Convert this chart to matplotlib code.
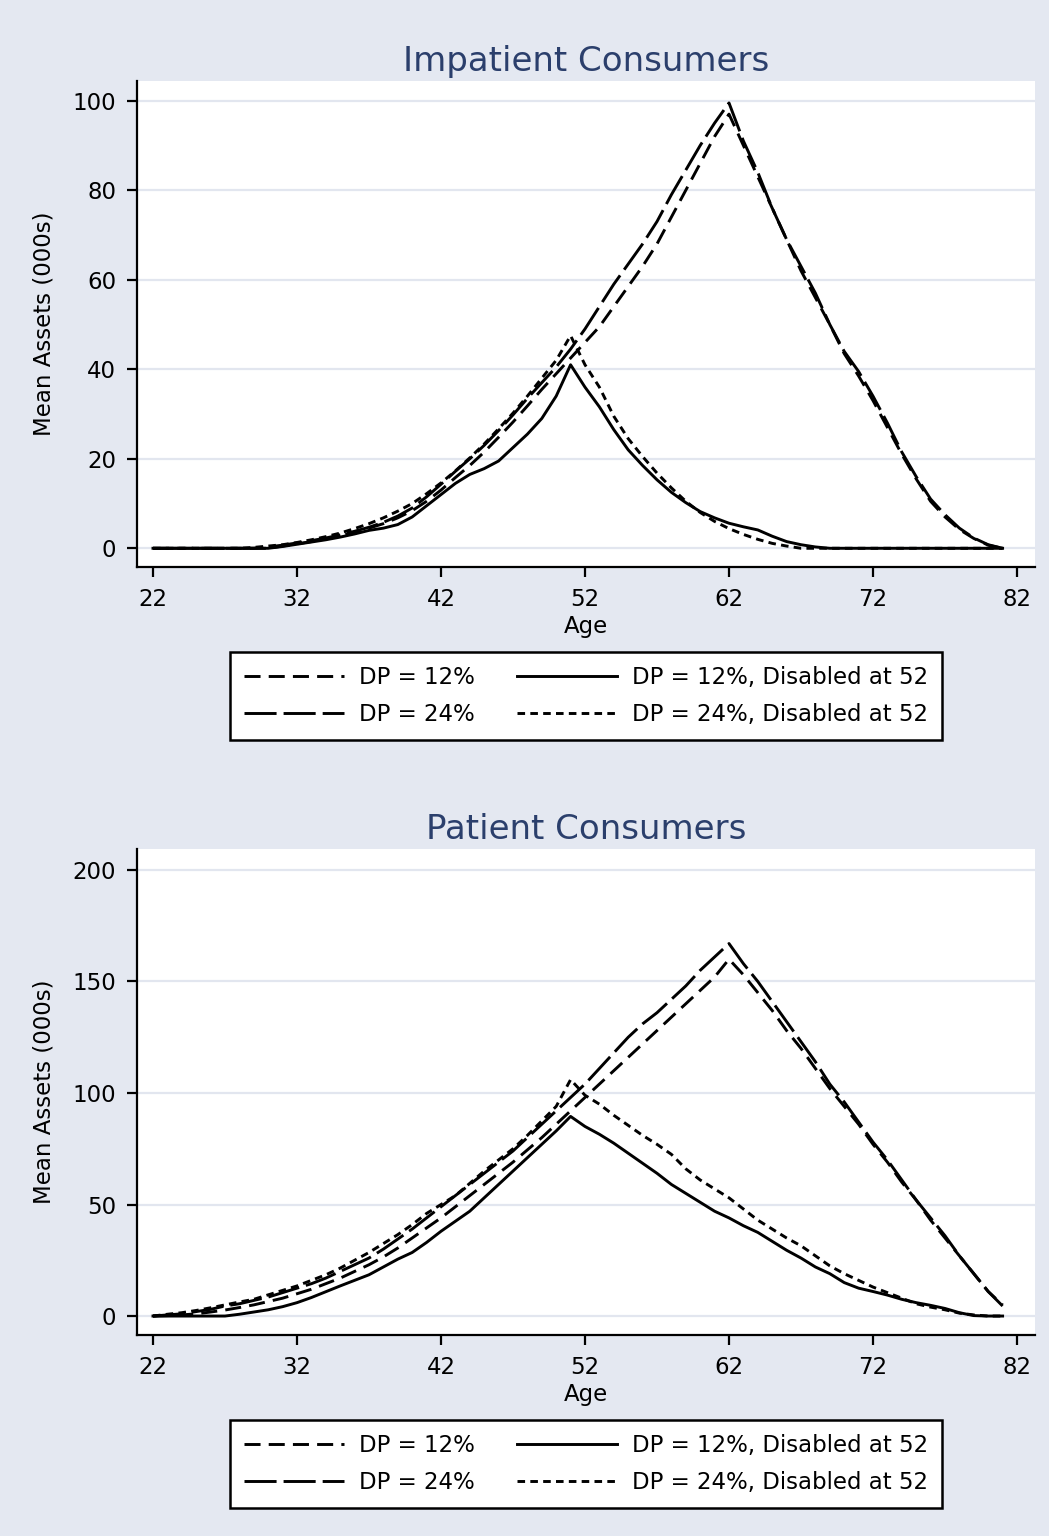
import numpy as np
import matplotlib
matplotlib.use("Agg")
import matplotlib.pyplot as plt

# Ages 22..81
ages = np.arange(22, 82)

# Impatient consumers (mean assets, 000s)
imp_dp12 = [0, 0, 0, 0, 0, 0, 0, 0, 0, 0.5,
            1.0, 1.5, 2.1, 2.8, 3.6, 4.5, 5.5, 6.8, 8.4, 10.5,
            13.0, 15.8, 18.5, 21.5, 24.8, 28.2, 31.8, 35.5, 39.0, 42.5,
            46.0, 49.5, 54.0, 58.5, 63.0, 68.0, 74.0, 80.0, 86.0, 92.0,
            97.0, 90.0, 83.0, 76.0, 69.0, 62.0, 56.0, 50.0, 43.5, 38.5,
            33.0, 27.0, 21.0, 15.5, 10.5, 7.0, 4.2, 2.2, 0.7, 0]
imp_dp24 = [0, 0, 0, 0, 0, 0, 0, 0, 0.3, 0.7,
            1.2, 1.7, 2.3, 3.0, 3.8, 4.7, 5.8, 7.2, 9.0, 11.5,
            14.3, 17.2, 20.0, 23.0, 26.3, 29.8, 33.5, 37.0, 40.5, 44.5,
            49.0, 54.0, 59.0, 63.5, 68.0, 73.0, 79.0, 84.5, 90.0, 95.0,
            99.5, 91.0, 84.0, 76.0, 69.0, 63.0, 57.0, 50.0, 44.0, 39.5,
            34.0, 28.0, 21.5, 16.0, 11.0, 7.5, 4.5, 2.3, 0.8, 0]
imp_dis12 = [0, 0, 0, 0, 0, 0, 0, 0, 0, 0.4,
             0.9, 1.4, 1.9, 2.5, 3.2, 4.0, 4.5, 5.3, 7.0, 9.5,
             12.0, 14.5, 16.5, 17.8, 19.5, 22.5, 25.5, 29.0, 34.0, 41.0,
             36.0, 31.6, 26.5, 22.0, 18.5, 15.3, 12.5, 10.2, 8.2, 6.8,
             5.6, 4.8, 4.1, 2.7, 1.5, 0.8, 0.3, 0, 0, 0,
             0, 0, 0, 0, 0, 0, 0, 0, 0, 0]
imp_dis24 = [0, 0, 0, 0, 0, 0, 0, 0.2, 0.5, 0.8,
             1.3, 1.9, 2.6, 3.4, 4.4, 5.5, 6.8, 8.3, 10.0, 12.2,
             14.6, 17.3, 20.2, 23.3, 26.7, 30.2, 34.0, 38.0, 42.0, 47.5,
             41.0, 36.0, 29.5, 24.5, 20.5, 16.8, 13.5, 10.5, 8.0, 6.0,
             4.4, 3.1, 2.0, 1.1, 0.5, 0, 0, 0, 0, 0,
             0, 0, 0, 0, 0, 0, 0, 0, 0, 0]

# Patient consumers (mean assets, 000s)
pat_dp12 = [0, 0.2, 0.5, 1.0, 1.8, 2.7, 3.8, 5.0, 6.5, 8.0,
            10.0, 12.0, 14.5, 17.0, 20.0, 23.0, 26.5, 30.5, 35.0, 39.5,
            44.0, 49.0, 54.0, 59.0, 64.0, 69.0, 74.5, 80.0, 86.0, 92.0,
            98.0, 104.0, 110.0, 116.0, 122.0, 128.0, 134.0, 140.0, 146.0, 152.0,
            160.0, 153.0, 145.0, 137.0, 128.0, 120.0, 111.0, 102.0, 94.0, 86.0,
            77.0, 69.0, 60.0, 52.0, 43.0, 35.0, 27.0, 19.0, 11.0, 5.0]
pat_dp24 = [0, 0.5, 1.0, 2.0, 3.0, 4.5, 5.5, 7.0, 8.5, 10.5,
            12.5, 14.5, 17.0, 20.0, 23.0, 26.0, 30.0, 34.5, 39.0, 44.0,
            49.0, 54.0, 59.0, 64.0, 69.0, 74.0, 80.0, 86.0, 92.0, 98.0,
            104.0, 111.0, 118.0, 125.0, 131.0, 136.0, 142.0, 148.0, 155.0, 161.0,
            167.0, 158.0, 150.0, 141.0, 132.0, 123.0, 114.0, 104.0, 96.0, 87.0,
            78.0, 70.0, 61.0, 52.0, 44.0, 36.0, 27.0, 19.0, 11.0, 4.5]
pat_dis12 = [0, 0, 0, 0, 0, 0, 0.8, 1.8, 2.8, 4.2,
             6.0, 8.3, 10.9, 13.5, 16.0, 18.5, 22.0, 25.5, 28.5, 33.0,
             38.0, 42.5, 47.0, 53.0, 59.0, 65.0, 71.0, 77.0, 83.0, 89.5,
             85.0, 81.5, 77.5, 73.0, 68.5, 64.0, 59.0, 55.0, 51.0, 47.0,
             44.0, 40.5, 37.5, 33.5, 29.5, 26.0, 22.0, 19.0, 15.0, 12.5,
             11.0, 9.4, 7.5, 6.0, 4.8, 3.4, 1.5, 0.2, 0, 0]
pat_dis24 = [0, 0.8, 1.5, 2.5, 3.7, 5.0, 6.3, 7.5, 9.5, 11.5,
             13.5, 16.0, 18.5, 21.5, 25.0, 28.5, 32.5, 36.5, 41.0, 46.0,
             50.0, 54.0, 59.5, 65.0, 70.0, 75.0, 81.0, 87.5, 94.0, 106.0,
             99.0, 95.0, 90.0, 85.5, 81.0, 77.0, 72.5, 66.0, 61.0, 57.0,
             53.0, 48.0, 43.0, 39.0, 35.0, 31.5, 27.0, 22.5, 19.0, 16.0,
             13.0, 10.5, 8.0, 5.5, 4.0, 2.8, 1.3, 0.5, 0, 0]

labels = ["DP = 12%", "DP = 24%", "DP = 12%, Disabled at 52", "DP = 24%, Disabled at 52"]
styles = [(0, (5.5, 2.8)), (0, (11, 2.4)), "-", (0, (2.6, 1.8))]

bg = "#e4e8f1"
grid_c = "#e2e6ef"
title_c = "#2b3f6c"

plt.rcParams["font.family"] = ["DejaVu Sans"]

fig = plt.figure(figsize=(10.49, 15.36), dpi=100)
fig.patch.set_facecolor(bg)

W, H = 1049.0, 1536.0


def make_panel(top_px, ylim, yticks, title, series):
    left, right, bottom = 137, 1035, top_px + 486
    ax = fig.add_axes([left / W, 1 - bottom / H, (right - left) / W, (bottom - top_px) / H])
    ax.set_facecolor("white")
    lines = []
    for ys, ls in zip(series, styles):
        ln, = ax.plot(ages, ys, color="black", lw=2.1, linestyle=ls)
        lines.append(ln)
    ax.set_xlim(20.89, 83.25)
    ax.set_ylim(*ylim)
    ax.set_xticks(range(22, 83, 10))
    ax.set_yticks(yticks)
    ax.grid(axis="y", color=grid_c, lw=1.6)
    ax.set_axisbelow(True)
    for s in ["top", "right"]:
        ax.spines[s].set_visible(False)
    for s in ["left", "bottom"]:
        ax.spines[s].set_linewidth(1.6)
    ax.tick_params(direction="out", length=7, width=1.6, labelsize=16.5, pad=8)
    ax.set_xlabel("Age", fontsize=16.5, labelpad=3)
    ax.set_ylabel("Mean Assets (000s)", fontsize=16.5, labelpad=12)
    ax.set_title(title, fontsize=24.5, color=title_c, pad=7)
    # legend below the panel
    leg = fig.legend(lines, labels,
                     loc="center", bbox_to_anchor=(586 / W, 1 - (top_px + 615) / H),
                     ncol=2, fontsize=16.5, frameon=True, fancybox=False, framealpha=1,
                     facecolor="white", edgecolor="black",
                     handlelength=4.4, handletextpad=0.65, columnspacing=1.8,
                     labelspacing=0.65, borderpad=0.6)
    leg.get_frame().set_linewidth(1.8)
    return ax


make_panel(81, (-4.18, 104.4), [0, 20, 40, 60, 80, 100], "Impatient Consumers",
           [imp_dp12, imp_dp24, imp_dis12, imp_dis24])
make_panel(849, (-8.5, 209.4), [0, 50, 100, 150, 200], "Patient Consumers",
           [pat_dp12, pat_dp24, pat_dis12, pat_dis24])

fig.savefig("out.png", dpi=100, facecolor=bg)
